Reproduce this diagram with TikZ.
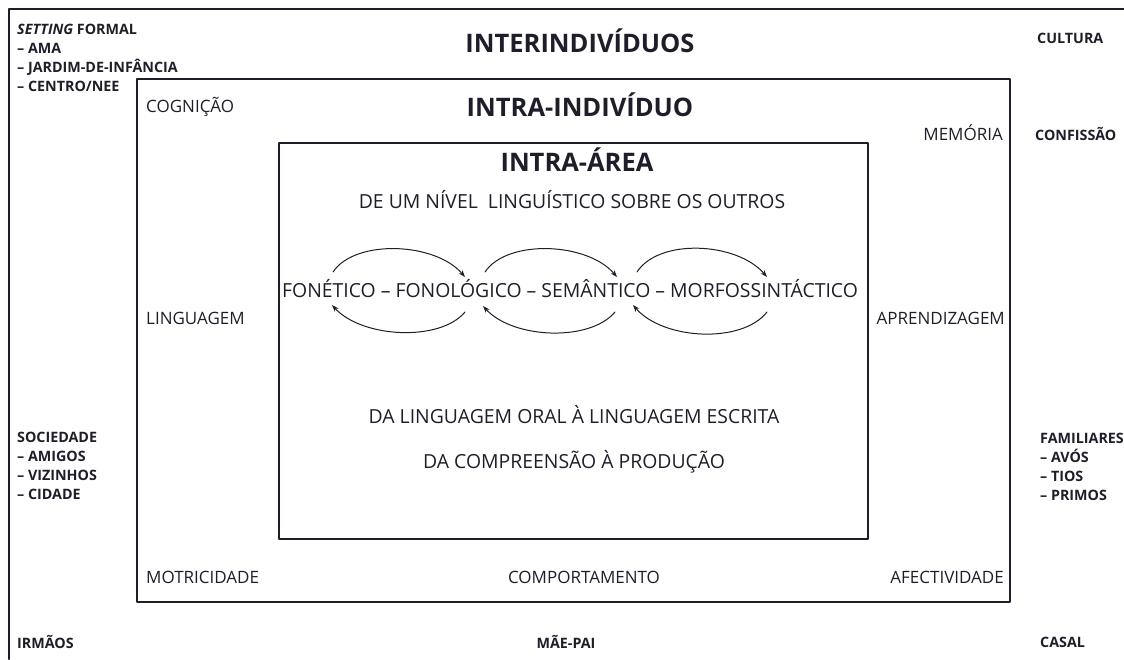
\documentclass[tikz,border=0pt]{standalone}
\usepackage{fontspec}
\setmainfont{Open Sans}
\usetikzlibrary{arrows.meta}
\usetikzlibrary{positioning}

\definecolor{tinta}{RGB}{30,30,42}
\tikzset{
  rotulo/.style={font=\fontsize{14.3}{16}\selectfont\bfseries,inner sep=0pt,text height=10.2pt,text depth=0pt,anchor=west,text=tinta},
  nivel/.style={font=\fontsize{17}{20}\selectfont,inner sep=0pt,text height=12.1pt,text depth=0pt,text=tinta},
  interno/.style={font=\fontsize{19.4}{23}\selectfont,inner sep=0pt,text height=13.9pt,text depth=0pt,text=tinta},
  titulo/.style={font=\fontsize{25.5}{30}\selectfont\bfseries,inner sep=0pt,text height=18.2pt,text depth=0pt,text=tinta},
  seta/.style={->,line width=1pt,draw=tinta}
}

\begin{document}
\begin{tikzpicture}[line cap=round,line join=round,>={Stealth[length=7pt,width=5pt]},x=1pt,y=-1pt]
\useasboundingbox (0,0) rectangle (1124,659);
% moldura exterior
\draw [line width=2pt,draw=tinta] (9,659)-- (9,9)-- (1124,9);
% caixas
\draw [line width=1.2pt,draw=tinta] (137,79) rectangle (1010,602);
\draw [line width=1.2pt,draw=tinta] (279,143) rectangle (868,539);

% interindividuos
\node [titulo] (inter) at (580,43) {INTERINDIVÍDUOS};
\node [rotulo] (setting) at (17,29) {\textit{SETTING} FORMAL};
\node [rotulo] (ama) at (17,48) {– AMA};
\node [rotulo] (jardim) at (17,67) {– JARDIM-DE-INFÂNCIA};
\node [rotulo] (centro) at (17,86) {– CENTRO/NEE};
\node [rotulo] (cultura) at (1037,38) {CULTURA};
\node [rotulo] (confissao) at (1035,135) {CONFISSÃO};
\node [rotulo] (sociedade) at (17,437) {SOCIEDADE};
\node [rotulo] (amigos) at (17,456) {– AMIGOS};
\node [rotulo] (vizinhos) at (17,475) {– VIZINHOS};
\node [rotulo] (cidade) at (17,494) {– CIDADE};
\node [rotulo] (familiares) at (1040,438) {FAMILIARES};
\node [rotulo] (avos) at (1040,457) {– AVÓS};
\node [rotulo] (tios) at (1040,476) {– TIOS};
\node [rotulo] (primos) at (1040,495) {– PRIMOS};
\node [rotulo] (irmaos) at (17,643) {IRMÃOS};
\node [rotulo,anchor=center] (maepai) at (566,643) {MÃE-PAI};
\node [rotulo] (casal) at (1040,642) {CASAL};

% intra-individuo
\node [titulo] (intraind) at (580,107) {INTRA-INDIVÍDUO};
\node [nivel,anchor=west] (cognicao) at (146,106) {COGNIÇÃO};
\node [nivel,anchor=west] (linguagem) at (146,318) {LINGUAGEM};
\node [nivel,anchor=west] (motricidade) at (146,577) {MOTRICIDADE};
\node [nivel,anchor=east] (memoria) at (1003,134) {MEMÓRIA};
\node [nivel,anchor=east] (aprendizagem) at (1005,318) {APRENDIZAGEM};
\node [nivel,anchor=east] (afectividade) at (1004,577) {AFECTIVIDADE};
\node [nivel] (comportamento) at (584,577) {COMPORTAMENTO};

% intra-area
\node [titulo] (intraarea) at (577,162) {INTRA-ÁREA};
\node [interno] (sobre) at (572,202) {DE UM NÍVEL\ \ LINGUÍSTICO SOBRE OS OUTROS};
\node [interno] (cadeia) at (570,291) {FONÉTICO – FONOLÓGICO – SEMÂNTICO – MORFOSSINTÁCTICO};
\node [interno] (oral) at (574,417) {DA LINGUAGEM ORAL À LINGUAGEM ESCRITA};
\node [interno] (producao) at (574,462) {DA COMPREENSÃO À PRODUÇÃO};

% setas entre niveis
\coordinate (c1a) at (333,272);
\coordinate (c1b) at (465,277);
\coordinate (c2a) at (485,272);
\coordinate (c2b) at (617,277);
\coordinate (c3a) at (637,272);
\coordinate (c3b) at (767,277);
\coordinate (b1a) at (465,312);
\coordinate (b1b) at (332,305);
\coordinate (b2a) at (615,312);
\coordinate (b2b) at (483,306);
\coordinate (b3a) at (767,312);
\coordinate (b3b) at (633,305);
\draw [seta] (c1a) .. controls +(22,-33) and +(-30,-35) .. (c1b);
\draw [seta] (c2a) .. controls +(22,-33) and +(-30,-35) .. (c2b);
\draw [seta] (c3a) .. controls +(22,-34) and +(-30,-35) .. (c3b);
\draw [seta] (b1a) .. controls +(-25,30) and +(30,33) .. (b1b);
\draw [seta] (b2a) .. controls +(-25,30) and +(30,33) .. (b2b);
\draw [seta] (b3a) .. controls +(-25,32) and +(30,35) .. (b3b);
\end{tikzpicture}
\end{document}
